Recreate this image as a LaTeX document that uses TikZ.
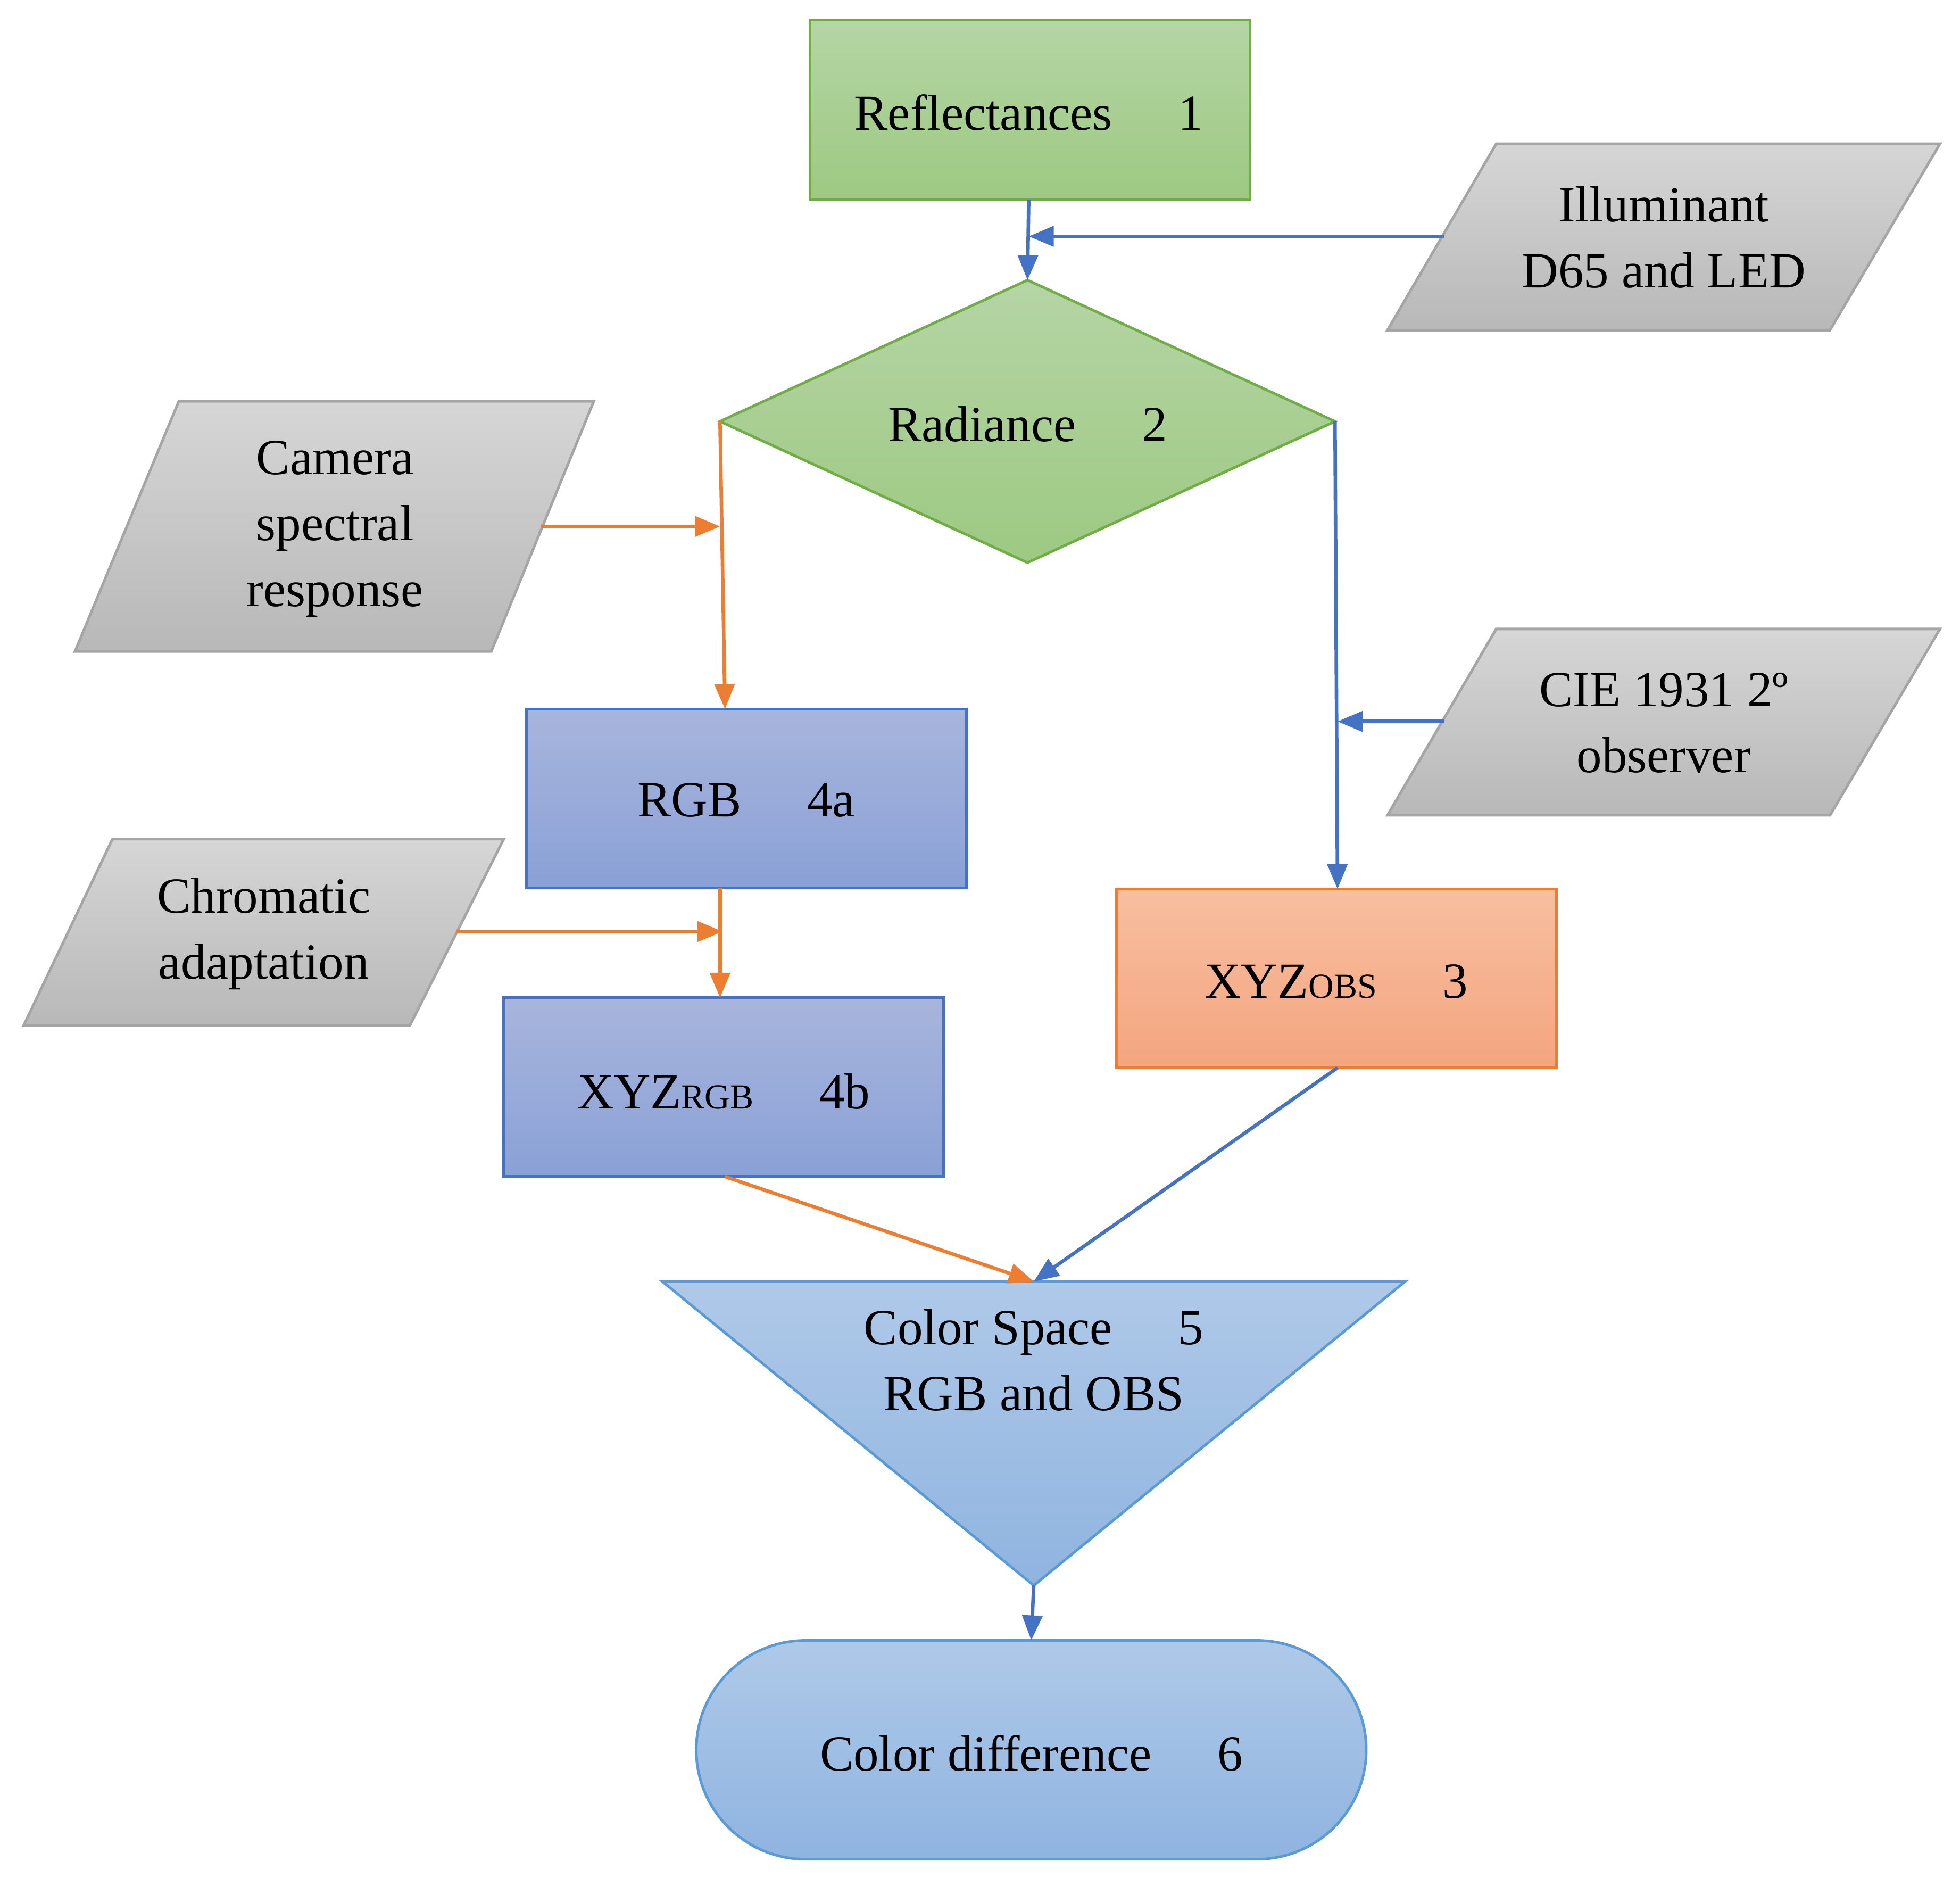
\documentclass[tikz,border=0pt]{standalone}
\usepackage{fontspec}
\setmainfont{Liberation Serif}
\usetikzlibrary{arrows.meta}
\begin{document}
\begin{tikzpicture}[x=0.01cm,y=-0.01cm,font=\fontsize{11.5}{15}\selectfont,
  gr/.style={draw={rgb,255:red,112;green,173;blue,71},line width=0.6pt,top color={rgb,255:red,181;green,213;blue,165},bottom color={rgb,255:red,157;green,201;blue,130}},
  gy/.style={draw={rgb,255:red,165;green,165;blue,165},line width=0.6pt,top color={rgb,255:red,214;green,214;blue,214},bottom color={rgb,255:red,184;green,184;blue,184}},
  bl/.style={draw={rgb,255:red,68;green,114;blue,196},line width=0.6pt,top color={rgb,255:red,168;green,181;blue,221},bottom color={rgb,255:red,138;green,161;blue,214}},
  og/.style={draw={rgb,255:red,237;green,125;blue,49},line width=0.6pt,top color={rgb,255:red,247;green,191;blue,160},bottom color={rgb,255:red,244;green,165;blue,127}},
  lb/.style={draw={rgb,255:red,91;green,155;blue,213},line width=0.6pt,top color={rgb,255:red,175;green,201;blue,232},bottom color={rgb,255:red,143;green,180;blue,224}},
  ab/.style={draw={rgb,255:red,68;green,114;blue,196},line width=0.8pt,-{Triangle[length=0.2cm,width=0.16cm]}},
  ao/.style={draw={rgb,255:red,237;green,125;blue,49},line width=0.8pt,-{Triangle[length=0.2cm,width=0.16cm]}},
  txt/.style={align=center,inner sep=0pt}]
\useasboundingbox (0,0) rectangle (1568,1502);
% shapes
\path[gr] (648,16) rectangle (1000,160);
\path[gr] (576,337) -- (822,224) -- (1068,337) -- (822,450) -- cycle;
\path[gy] (1197,115) -- (1552,115) -- (1464,264) -- (1110,264) -- cycle;
\path[gy] (143,321) -- (475,321) -- (393,521) -- (60,521) -- cycle;
\path[gy] (1197,503) -- (1552,503) -- (1464,652) -- (1110,652) -- cycle;
\path[gy] (90,671) -- (403,671) -- (328,820) -- (19,820) -- cycle;
\path[bl] (421,567) rectangle (773,710);
\path[bl] (403,798) rectangle (755,941);
\path[og] (893,711) rectangle (1245,854);
\path[lb] (530,1025) -- (1124,1025) -- (827,1268) -- cycle;
\path[lb,rounded corners=0.875cm] (557,1312) rectangle (1093,1487);
% texts
\node[txt] (t1) at (823,90) {Reflectances\hspace{1.3em}1};
\node[txt] (t2) at (822,339) {Radiance\hspace{1.3em}2};
\node[txt] (til) at (1331,190) {Illuminant\\D65 and LED};
\node[txt] (tcam) at (268,423) {Camera\\spectral\\response};
\node[txt] (tcie) at (1331,578) {CIE 1931 2º\\observer};
\node[txt] (tchr) at (211,747) {Chromatic\\adaptation};
\node[txt] (t4a) at (597,640) {RGB\hspace{1.3em}4a};
\node[txt] (t4b) at (579,873) {XYZ{\fontsize{8}{10}\selectfont RGB}\hspace{1.3em}4b};
\node[txt] (t3) at (1069,785) {XYZ{\fontsize{8}{10}\selectfont OBS}\hspace{1.3em}3};
\node[txt] (t5) at (827,1088) {Color Space\hspace{1.3em}5\\RGB and OBS};
\node[txt] (t6) at (825,1402) {Color difference\hspace{1.3em}6};
% connector coordinates
\coordinate (rb) at (823,160);
\coordinate (dt) at (822,224);
\coordinate (il) at (1155,189);
\coordinate (ie) at (823,189);
\coordinate (dl) at (576,337);
\coordinate (rgbt) at (580,567);
\coordinate (cam) at (433,421);
\coordinate (came) at (576,421);
\coordinate (dr) at (1068,337);
\coordinate (obst) at (1070,711);
\coordinate (cie) at (1155,577);
\coordinate (ciee) at (1070,577);
\coordinate (rgbb) at (576,710);
\coordinate (xrt) at (576,798);
\coordinate (chr) at (365,745);
\coordinate (chre) at (578,745);
\coordinate (xrb) at (580,941);
\coordinate (tri) at (827,1025);
\coordinate (obsb) at (1070,854);
\coordinate (trib) at (827,1268);
\coordinate (stt) at (825,1312);
\draw[ab] (rb) -- (dt);
\draw[ab] (il) -- (ie);
\draw[ao] (dl) -- (rgbt);
\draw[ao] (cam) -- (came);
\draw[ab] (dr) -- (obst);
\draw[ab] (cie) -- (ciee);
\draw[ao] (rgbb) -- (xrt);
\draw[ao] (chr) -- (chre);
\draw[ao] (xrb) -- (tri);
\draw[ab] (obsb) -- (tri);
\draw[ab] (trib) -- (stt);
\end{tikzpicture}
\end{document}
